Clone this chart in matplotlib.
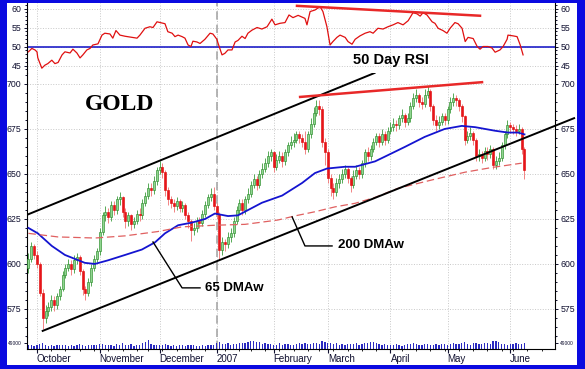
import numpy as np
import pandas as pd
import matplotlib
matplotlib.use('Agg')
import matplotlib.pyplot as plt
from matplotlib.patches import Rectangle
from matplotlib.ticker import MultipleLocator, FixedLocator
import matplotlib.transforms as mtransforms

plt.rcParams['font.family'] = 'Liberation Sans'

# trading days on the chart
dates = pd.bdate_range('2006-09-27', '2007-06-08')
holidays = pd.to_datetime(['2006-11-23', '2006-12-25', '2007-01-01', '2007-01-02',
                           '2007-01-15', '2007-02-19', '2007-04-06', '2007-05-28'])
dates = dates[~dates.isin(holidays)]

first_open = 598
close = [603, 610, 605,
         600, 584, 570, 574, 576, 580, 577, 582, 586, 594, 598, 600, 597, 602, 604, 596, 586, 584, 590, 598, 603, 607,
         618, 627, 629, 626, 633, 630, 636, 637, 629, 624, 627, 622, 624, 628, 627, 634, 638, 642, 641, 646, 652,
         654, 651, 641, 636, 634, 632, 635, 631, 633, 627, 624, 619, 620, 624, 623, 628, 633, 637, 639, 632,
         628, 608, 612, 611, 615, 617, 624, 630, 634, 630, 636, 639, 644, 647, 644, 650, 653, 656, 660, 662,
         654, 658, 660, 657, 662, 666, 668, 669, 672, 670, 668, 664, 672, 678, 684, 688, 686, 668, 662,
         648, 642, 640, 645, 647, 650, 653, 648, 644, 649, 652, 650, 656, 662, 660, 664, 668, 671, 668, 672, 669, 674,
         676, 678, 677, 681, 683, 679, 681, 688, 692, 694, 690, 689, 694, 696, 688, 680, 677, 679, 682, 680,
         686, 690, 692, 691, 688, 682, 669, 671, 673, 669, 660, 661, 659, 663, 661, 664, 655, 657, 659, 666, 672, 677,
         676, 675, 674, 675, 664, 652]
high = [606, 612, 611,
        607, 601, 586, 577, 579, 583, 582, 584, 588, 596, 600, 603, 602, 605, 606, 605, 597, 588, 592, 600, 605, 609,
        620, 629, 632, 631, 635, 635, 638, 640, 638, 631, 629, 628, 626, 630, 631, 636, 640, 645, 645, 649, 654,
        657, 656, 652, 643, 638, 636, 637, 636, 635, 634, 629, 625, 623, 626, 626, 630, 635, 639, 642, 643,
        634, 629, 615, 614, 618, 620, 626, 632, 636, 636, 638, 642, 646, 650, 649, 652, 656, 659, 663, 664,
        663, 661, 663, 662, 664, 668, 671, 673, 674, 674, 672, 674, 674, 681, 687, 691, 691, 688, 670,
        664, 650, 645, 648, 650, 653, 655, 654, 649, 652, 655, 654, 658, 664, 665, 666, 670, 673, 673, 675, 674, 676,
        679, 681, 680, 683, 686, 684, 684, 690, 695, 697, 695, 693, 697, 699, 697, 689, 683, 682, 684, 684,
        688, 693, 695, 694, 692, 689, 683, 674, 676, 674, 670, 664, 663, 665, 665, 666, 665, 660, 662, 668, 674, 680,
        679, 678, 677, 678, 676, 665]
low = [595, 601, 603,
       598, 582, 564, 567, 571, 574, 574, 575, 580, 585, 592, 596, 594, 595, 600, 594, 583, 580, 582, 588, 596, 601,
       605, 616, 624, 623, 624, 627, 628, 633, 626, 620, 621, 619, 620, 622, 624, 625, 632, 636, 638, 639, 644,
       650, 648, 638, 633, 631, 629, 630, 629, 629, 625, 620, 613, 616, 618, 620, 621, 626, 631, 635, 630,
       625, 603, 605, 607, 609, 612, 615, 622, 628, 627, 628, 634, 637, 642, 641, 642, 648, 651, 654, 657,
       651, 652, 656, 654, 655, 660, 664, 665, 667, 667, 665, 661, 662, 670, 676, 682, 683, 665, 655,
       645, 638, 636, 638, 642, 645, 648, 645, 640, 642, 647, 647, 648, 654, 657, 658, 662, 666, 665, 666, 666, 667,
       672, 674, 674, 675, 679, 676, 677, 679, 686, 690, 687, 686, 687, 692, 685, 677, 674, 675, 677, 677,
       678, 684, 688, 688, 685, 679, 666, 667, 669, 666, 657, 657, 656, 657, 658, 659, 653, 653, 655, 657, 664, 670,
       673, 672, 671, 672, 661, 647]
volume_k = [30, 34, 28,
            36, 42, 45, 32, 28, 35, 26, 30, 33, 29, 36, 27, 31, 25, 33, 38, 30, 28, 34, 29, 35, 31,
            40, 38, 34, 30, 36, 28, 42, 35, 45, 32, 30, 38, 28, 34, 30, 48, 55, 70, 40, 35, 30,
            36, 32, 38, 30, 28, 33, 26, 30, 35, 28, 32, 36, 30, 27, 25, 30, 28, 33, 30, 34,
            45, 60, 42, 38, 50, 36, 44, 40, 48, 52, 45, 58, 68, 62, 55, 60, 42, 48, 38, 40,
            35, 32, 45, 30, 38, 42, 36, 33, 40, 45, 38, 52, 40, 44, 50, 48, 42, 65, 58,
            50, 45, 40, 48, 36, 42, 35, 38, 44, 40, 46, 35, 42, 48, 52, 60, 55, 45, 38, 35, 40, 32,
            30, 35, 40, 33, 28, 36, 42, 38, 45, 40, 35, 30, 38, 44, 36, 33, 40, 35, 42, 38,
            36, 40, 45, 38, 42, 48, 55, 40, 35, 46, 52, 42, 38, 50, 45, 40, 62, 68, 58, 44, 40, 36,
            42, 38, 46, 40, 44, 48]

# moving averages, read at trading-day positions
ma65_day = [0, 3.3, 8.2, 12.8, 19.8, 23.3, 27.9, 33.9, 39.8, 44.4, 47.9, 52.5, 57.4, 62, 65.4, 70, 73.5,
            81.9, 89, 96, 100.5, 104.7, 111, 114.6, 121.6, 125, 132, 139, 146, 152, 156.7, 163.7, 168.2, 171.7, 174]
ma65 = [620, 617, 610, 605, 600.6, 600, 602, 605, 608, 612, 617, 621.5, 623, 625, 628, 626.6, 627,
        634, 638, 645, 650.5, 653, 654, 654, 657, 659.6, 665, 670.6, 675, 676.7, 676, 674, 673, 673, 672]
ma200_day = [0, 10.4, 23.3, 33.9, 45.4, 53.9, 65.4, 76, 87.5, 93.5, 100.5, 107.5, 114.6, 121.6,
             129.6, 141.6, 153.2, 162.6, 173]
ma200 = [617, 615, 614.4, 615.6, 618, 620.6, 621.5, 622, 624.4, 626.7, 629, 631.7, 633.7, 637,
         642, 646.7, 651, 653.6, 656]

rsi_day = [0, 1.2, 2.3, 3.0, 3.3, 4.7, 5.8, 6.8, 8.2, 9.3, 10.4, 11.8, 12.8, 14.6, 15.6, 17.0, 18.1, 19.1,
           20.5, 21.6, 22.6, 24.4, 25.8, 26.8, 28.6, 29.6, 30.7, 32.1, 33.9, 35.6, 38.1, 39.1, 40.9, 42.6,
           43.7, 45.1, 46.8, 47.9, 48.9, 50.4, 51.4, 52.5, 53.9, 54.9, 56.0, 57.0, 57.7, 59.1, 60.2, 61.9,
           63.7, 64.7, 66.1, 66.5, 67.9, 68.9, 70.0, 71.4, 72.5, 73.5, 74.9, 76.0, 77.0, 78.4, 80.2, 81.9,
           83.7, 85.4, 86.5, 88.2, 90.0, 91.4, 92.8, 94.6, 97.0, 97.7, 98.8, 100.5, 102.3, 103.3, 104.7,
           105.8, 106.8, 108.2, 109.3, 111.1, 112.1, 113.5, 114.6, 116.3, 118.1, 119.8, 120.9, 122.6, 124.4,
           126.1, 127.9, 129.6, 131.4, 133.2, 134.9, 136.3, 137.4, 138.4, 139.8, 141.6, 142.6, 143.7, 145.4,
           146.8, 147.9, 149.6, 150.7, 152.1, 153.2, 154.2, 156.0, 157.4, 158.4, 159.5, 161.2, 162.6, 163.7,
           165.4, 166.5, 167.9, 168.2, 170.0, 171.4, 172.5, 173.5]
rsi = [48.6, 49.5, 49.1, 48.6, 47.0, 44.3, 45.1, 45.5, 46.4, 45.5, 45.8, 47.8, 48.6, 48.3, 49.3, 48.3, 47.0, 47.8,
       49.1, 49.5, 50.4, 50.7, 53.0, 53.5, 53.3, 52.2, 54.2, 53.0, 52.7, 52.5, 52.2, 53.0, 54.8, 55.2,
       55.0, 56.5, 56.2, 56.0, 53.9, 53.5, 52.6, 53.0, 52.6, 52.2, 50.4, 50.0, 51.4, 51.2, 50.8, 51.9,
       53.5, 53.3, 51.9, 50.9, 47.8, 48.2, 49.1, 49.1, 51.2, 51.6, 52.7, 52.1, 53.5, 54.3, 55.0, 54.6,
       55.2, 57.2, 55.7, 56.1, 56.3, 58.3, 57.6, 58.2, 57.4, 55.7, 59.2, 59.6, 60.5, 59.2, 55.2,
       50.4, 51.3, 52.4, 53.0, 52.4, 51.3, 50.6, 51.9, 52.8, 53.5, 53.9, 53.5, 54.8, 54.6,
       55.2, 55.7, 56.3, 55.7, 56.8, 58.9, 58.6, 58.0, 58.9, 58.3, 56.5, 56.1, 54.8, 54.2,
       53.5, 54.8, 56.3, 56.0, 54.8, 51.3, 52.4, 52.1, 50.0, 49.3, 50.0, 50.0, 49.6, 48.5,
       49.1, 50.0, 51.9, 53.0, 52.8, 52.6, 50.4, 47.8]

# hand drawn lines: (days, values)
upper_channel = ([-0.5, 121.4], [627.3, 706.1])
lower_channel = ([5.0, 191.4], [562.8, 681.0])
price_resistance = ([95.3, 159.1], [692.8, 701.0])
rsi_resistance = ([94.2, 158.4], [60.7, 58.1])

W, H = 585, 369
fig = plt.figure(figsize=(W / 100, H / 100), dpi=100, facecolor='#0a0ae0')
fig.patches.append(Rectangle((7 / W, (H - 365) / H), 570 / W, 362 / H, transform=fig.transFigure,
                             facecolor='white', edgecolor='none', zorder=-1))


def box(top, bottom):
    return [27 / W, (H - bottom) / H, 528 / W, (bottom - top) / H]


ax_rsi = fig.add_axes(box(3, 73))
ax = fig.add_axes(box(73, 337), sharex=ax_rsi)
ax_vol = fig.add_axes(box(337, 349), sharex=ax_rsi)

x = np.arange(len(close))
c = np.array(close, float)
o = np.r_[first_open, c[:-1]]
h = np.array(high, float)
l = np.array(low, float)
up = c >= o
dn = ~up

# candles
ax.vlines(x[up], l[up], h[up], color='#3c9c3c', lw=0.6, zorder=2)
ax.vlines(x[dn], l[dn], h[dn], color='#f07070', lw=0.6, zorder=2)
ax.bar(x[up], np.maximum(c[up] - o[up], 0.6), bottom=o[up], width=0.7, color='#90d690',
       edgecolor='#2c8c2c', lw=0.45, zorder=3)
ax.bar(x[dn], o[dn] - c[dn], bottom=c[dn], width=0.7, color='#e8141a', edgecolor='#e01010',
       lw=0.45, zorder=3)

ax.plot(ma65_day, ma65, color='#1414d0', lw=1.3, zorder=4)
ax.plot(ma200_day, ma200, color='#e06060', lw=0.9, dashes=(6, 3), zorder=4)

ax.plot(*upper_channel, color='black', lw=1.4, zorder=5)
ax.plot(*lower_channel, color='black', lw=1.4, zorder=5, clip_on=False)
ax.plot(*price_resistance, color='#e82828', lw=1.8, zorder=5)

# labels
ax.text(0.110, 0.879, 'GOLD', transform=ax.transAxes, family='Liberation Serif', weight='bold',
        fontsize=17, ha='left', va='center')
ax.plot([43.7, 53.9, 60.2], [612.2, 586.7, 586.7], color='black', lw=1.0, zorder=5)
ax.text(61.9, 586.7, '65 DMAw', weight='bold', fontsize=9.5, ha='left', va='center')
ax.plot([92.5, 97.0, 106.5], [626.1, 610.0, 610.0], color='black', lw=1.0, zorder=5)
ax.text(108.6, 610.4, '200 DMAw', weight='bold', fontsize=9.5, ha='left', va='center')

# RSI panel
ax_rsi.plot(rsi_day, rsi, color='#e01010', lw=0.9, zorder=3)
ax_rsi.axhline(50, color='#2020c8', lw=1.2, zorder=2)
ax_rsi.plot(*rsi_resistance, color='#e82828', lw=1.8, zorder=4)
ax_rsi.text(0.617, 0.186, '50 Day RSI', transform=ax_rsi.transAxes, weight='bold', fontsize=10.5,
            ha='left', va='center')

# volume panel
ax_vol.bar(x, np.array(volume_k) * 1000, width=0.45, color='#2a2ac0', zorder=2)

# axes styling
month_starts = [i for i in range(1, len(dates)) if dates[i].month != dates[i - 1].month]
month_names = ['2007' if dates[i].month == 1 else dates[i].strftime('%B') for i in month_starts]
week_starts = [i for i in range(1, len(dates)) if dates[i].weekday() < dates[i - 1].weekday()]
week_starts += list(np.arange(week_starts[-1] + 5, 185, 5))

ax_rsi.set_xlim(-0.5, 184.7)
ax_rsi.set_ylim(43.03, 61.45)
ax.set_ylim(559.4, 706.1)
ax_vol.set_ylim(0, 98000)

ax_vol.xaxis.set_major_locator(FixedLocator(month_starts))
ax_vol.xaxis.set_minor_locator(FixedLocator(week_starts))
ax_vol.set_xticklabels(month_names)
off = mtransforms.ScaledTranslation(1.5 / 100, 0, fig.dpi_scale_trans)
for lab in ax_vol.get_xticklabels():
    lab.set_horizontalalignment('left')
    lab.set_transform(lab.get_transform() + off)
ax_vol.tick_params(axis='x', which='major', length=3, width=0.8, labelsize=7, pad=0.8, colors='#101030')
ax_vol.tick_params(axis='x', which='minor', length=1.5, width=0.6)

ax.yaxis.set_major_locator(MultipleLocator(25))
ax.yaxis.set_minor_locator(MultipleLocator(5))
ax_rsi.yaxis.set_major_locator(FixedLocator([45, 50, 55, 60]))
ax_rsi.yaxis.set_minor_locator(MultipleLocator(1))
ax_vol.yaxis.set_major_locator(FixedLocator([49000]))
ax_vol.yaxis.set_minor_locator(FixedLocator([]))

for a in (ax_rsi, ax, ax_vol):
    a.set_facecolor('none')
    a.tick_params(axis='y', which='both', direction='out', left=True, right=True,
                  labelleft=True, labelright=True, labelsize=6.3, pad=1.5, colors='#101030', width=0.7)
    a.tick_params(axis='y', which='major', length=2.5)
    a.tick_params(axis='y', which='minor', length=1.3)
    a.spines['top'].set_visible(False)
    for s in ('left', 'right', 'bottom'):
        a.spines[s].set_linewidth(0.8)
    a.grid(True, which='major', color='#c8c8c8', ls=':', lw=0.7, zorder=0)
    a.axvline(month_starts[3], color='#a8a8a8', lw=1.2, dashes=(5, 3), zorder=1)
    a.set_axisbelow(True)
for a in (ax_rsi, ax):
    a.spines['bottom'].set_visible(False)
    a.tick_params(axis='x', which='both', bottom=False, labelbottom=False)
ax_vol.tick_params(axis='y', labelsize=3.5, length=2)
ax_vol.grid(False, axis='y')

# no "60" on the right RSI scale
for t in ax_rsi.yaxis.get_major_ticks():
    if t.get_loc() == 60:
        t.label2.set_visible(False)

fig.savefig('out.png', dpi=100, facecolor=fig.get_facecolor())
